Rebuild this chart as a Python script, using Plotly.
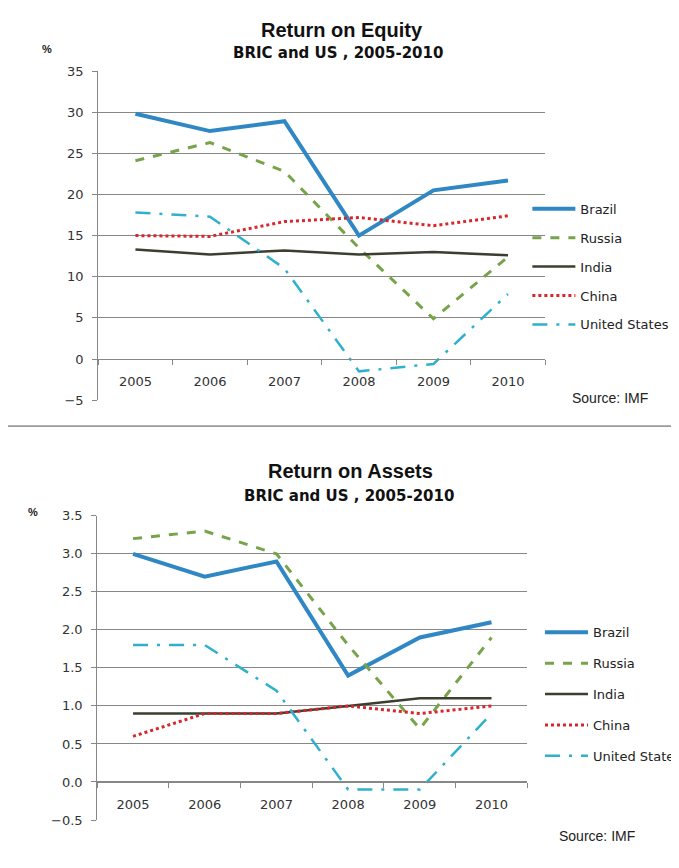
import plotly.graph_objects as go

# page has an 8px body margin; figure origin sits at (8, 8) in the window
OFF = 8
W, H = 679, 868 - OFF

years = ["2005", "2006", "2007", "2008", "2009", "2010"]
series_names = ["Brazil", "Russia", "India", "China", "United States"]

roe_brazil = [29.8, 27.7, 28.9, 15.0, 20.5, 21.7]
roe_russia = [24.1, 26.3, 22.8, 13.5, 4.9, 12.4]
roe_india = [13.3, 12.7, 13.2, 12.7, 13.0, 12.6]
roe_china = [15.0, 14.9, 16.7, 17.2, 16.2, 17.4]
roe_us = [17.8, 17.3, 11.0, -1.5, -0.6, 7.9]

roa_brazil = [3.0, 2.7, 2.9, 1.4, 1.9, 2.1]
roa_russia = [3.2, 3.3, 3.0, 1.8, 0.7, 1.9]
roa_india = [0.9, 0.9, 0.9, 1.0, 1.1, 1.1]
roa_china = [0.6, 0.9, 0.9, 1.0, 0.9, 1.0]
roa_us = [1.8, 1.8, 1.2, -0.1, -0.1, 0.9]

styles = {
    "Brazil": dict(color="#2f88c4", width=4, dash="solid"),
    "Russia": dict(color="#77a34a", width=3, dash="dash"),
    "India": dict(color="#3a3f30", width=2.5, dash="solid"),
    "China": dict(color="#d8262b", width=3, dash="dot"),
    "United States": dict(color="#2fb0cc", width=2.5, dash="15px,9px,3px,9px"),
}

def px_x(p):
    return (p - OFF) / W

def px_y(p):
    return 1 - (p - OFF) / H

fig = go.Figure()

top = [roe_brazil, roe_russia, roe_india, roe_china, roe_us]
bot = [roa_brazil, roa_russia, roa_india, roa_china, roa_us]

for name, vals in zip(series_names, top):
    fig.add_trace(go.Scatter(x=years, y=vals, mode="lines", name=name,
                             line=styles[name], xaxis="x", yaxis="y",
                             legend="legend", legendgroup="t" + name))
for name, vals in zip(series_names, bot):
    fig.add_trace(go.Scatter(x=years, y=vals, mode="lines", name=name,
                             line=styles[name], xaxis="x2", yaxis="y2",
                             legend="legend2", legendgroup="b" + name))

top_rng = [-5, 35]
bot_rng = [-0.5, 3.5]
top_dom = [px_y(400), px_y(65)]
bot_dom = [px_y(827.3), px_y(517.7)]

def zero_pos(rng, dom):
    return dom[0] + (0 - rng[0]) / (rng[1] - rng[0]) * (dom[1] - dom[0])

grid = "#878787"
tickfont = dict(family="DejaVu Sans", size=13, color="#333333")

xcommon = dict(type="category", range=[-0.5, 5.5], showgrid=False, showline=True,
               linecolor=grid, linewidth=1, ticks="outside", ticklen=5,
               tickcolor=grid, tickson="boundaries", tickfont=tickfont,
               ticklabelstandoff=10, fixedrange=True)
ycommon = dict(showgrid=True, gridcolor=grid, gridwidth=1, showline=True,
               linecolor=grid, linewidth=1, ticks="outside", ticklen=5,
               tickcolor=grid, tickfont=tickfont, zeroline=False,
               ticklabelstandoff=6, fixedrange=True)

legfont = dict(family="DejaVu Sans", size=13, color="#222")

fig.update_layout(
    width=W, height=H,
    margin=dict(l=0, r=0, t=0, b=0),
    paper_bgcolor="white", plot_bgcolor="white",
    xaxis=dict(domain=[px_x(99), px_x(550)], anchor="free",
               position=zero_pos(top_rng, top_dom), **xcommon),
    yaxis=dict(domain=top_dom, range=top_rng, dtick=5, anchor="x", **ycommon),
    xaxis2=dict(domain=[px_x(98), px_x(532)], anchor="free",
                position=zero_pos(bot_rng, bot_dom), **xcommon),
    yaxis2=dict(domain=bot_dom, range=bot_rng, dtick=0.5, tickformat=".1f",
                anchor="x2", **ycommon),
    legend=dict(x=px_x(532), y=px_y(190), xanchor="left", yanchor="top",
                bgcolor="rgba(0,0,0,0)", font=legfont, tracegroupgap=9,
                itemwidth=43),
    legend2=dict(x=px_x(545), y=px_y(621), xanchor="left", yanchor="top",
                 bgcolor="rgba(0,0,0,0)", font=legfont, tracegroupgap=11,
                 itemwidth=43),
    showlegend=True,
)

title_font = dict(family="Liberation Sans", size=20, color="#111")
sub_font = dict(family="DejaVu Sans", size=15, color="#111")

annos = [
    dict(text="<b>Return on Equity</b>", x=px_x(345), y=px_y(23), font=title_font),
    dict(text="<b>BRIC and US , 2005-2010</b>", x=px_x(341), y=px_y(47), font=sub_font),
    dict(text="<b>%</b>", x=px_x(47), y=px_y(43), font=dict(family="Liberation Sans", size=11, color="#222")),
    dict(text="Source: IMF", x=px_x(575), y=px_y(398), xanchor="left",
         font=dict(family="Liberation Sans", size=14, color="#222")),
    dict(text="<b>Return on Assets</b>", x=px_x(354), y=px_y(472), font=title_font),
    dict(text="<b>BRIC and US , 2005-2010</b>", x=px_x(352), y=px_y(498), font=sub_font),
    dict(text="<b>%</b>", x=px_x(33), y=px_y(514), font=dict(family="Liberation Sans", size=11, color="#222")),
    dict(text="Source: IMF", x=px_x(562), y=px_y(844), xanchor="left",
         font=dict(family="Liberation Sans", size=14, color="#222")),
]
for a in annos:
    a.setdefault("xanchor", "center")
    fig.add_annotation(xref="paper", yref="paper", yanchor="middle",
                       showarrow=False, **a)

fig.add_shape(type="line", xref="paper", yref="paper", x0=0, x1=1,
              y0=px_y(426.5), y1=px_y(426.5), line=dict(color="#9a9a9a", width=1.8))

fig.write_html("out.html")
